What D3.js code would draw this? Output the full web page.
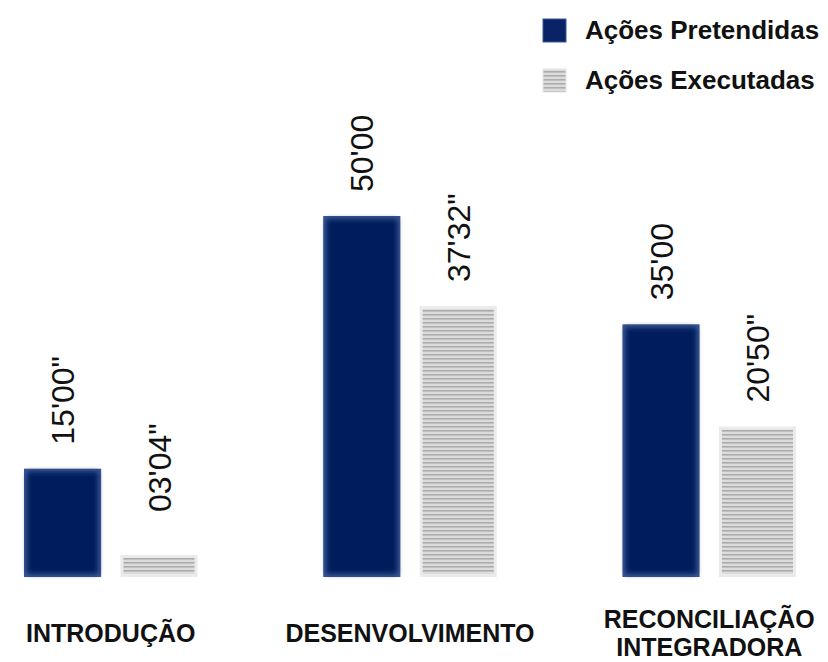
<!DOCTYPE html>
<html>
<head>
<meta charset="utf-8">
<script src="https://cdn.jsdelivr.net/npm/d3@7"></script>
<style>
  body { margin: 0; background: #fff; }
  text { font-family: "Liberation Sans", Arial, sans-serif; fill: #111; }
</style>
</head>
<body>
<div id="chart"></div>
<script>
// data
var categories = [["INTRODUÇÃO"], ["DESENVOLVIMENTO"], ["RECONCILIAÇÃO", "INTEGRADORA"]];
var seriesNames = ["Ações Pretendidas", "Ações Executadas"];
// durations in minutes
var pretendidas = [15, 50, 35];
var executadas = [3 + 4/60, 37 + 32/60, 20 + 50/60];
var labelsPretendidas = ["15'00\"", "50'00", "35'00"];
var labelsExecutadas = ["03'04\"", "37'32\"", "20'50\""];

var width = 828, height = 662;

var svg = d3.select("#chart")
  .append("svg")
    .attr("width", width)
    .attr("height", height);

var defs = svg.append("defs");

// striped fill for the executed bars
var pat = defs.append("pattern")
    .attr("id", "stripes")
    .attr("patternUnits", "userSpaceOnUse")
    .attr("width", 8)
    .attr("height", 4);
pat.append("rect").attr("width", 8).attr("height", 4).attr("fill", "#dcdcdc");
pat.append("rect").attr("y", 2).attr("width", 8).attr("height", 1.6).attr("fill", "#acacac");

defs.append("filter")
    .attr("id", "soft")
    .attr("x", "-20%").attr("y", "-20%").attr("width", "140%").attr("height", "140%")
  .append("feGaussianBlur")
    .attr("stdDeviation", 2.5);

var keys = ["p", "e"];
var rows = categories.map(function(c, i) {
  return {
    cat: c,
    key: c.join(" "),
    p: pretendidas[i], e: executadas[i],
    pl: labelsPretendidas[i], el: labelsExecutadas[i]
  };
});

// scales
var x = d3.scaleBand()
    .domain(rows.map(function(d) { return d.key; }))
    .range([24, 796])
    .paddingInner(0.42)
    .paddingOuter(0);

var xSub = d3.scaleBand()
    .domain(keys)
    .range([0, x.bandwidth()])
    .paddingInner(0.2)
    .paddingOuter(0);

var y = d3.scaleLinear()
    .domain([0, 50])
    .range([577, 216]);

var groups = svg.selectAll("g.grp")
  .data(rows)
  .enter().append("g")
    .attr("class", "grp")
    .attr("transform", function(d) { return "translate(" + x(d.key) + ",0)"; });

var bars = groups.selectAll("g.bar")
  .data(function(d) {
    return keys.map(function(k) { return { k: k, v: d[k], label: d[k + "l"] }; });
  })
  .enter().append("g")
    .attr("class", "bar");

// outer edge
bars.append("rect")
    .attr("x", function(d) { return xSub(d.k); })
    .attr("y", function(d) { return y(d.v); })
    .attr("width", xSub.bandwidth())
    .attr("height", function(d) { return y(0) - y(d.v); })
    .attr("fill", function(d) { return d.k === "p" ? "#3a5896" : "#ebebeb"; });

// soft inner fill
bars.append("rect")
    .attr("x", function(d) { return xSub(d.k) + 3; })
    .attr("y", function(d) { return y(d.v) + 3; })
    .attr("width", xSub.bandwidth() - 6)
    .attr("height", function(d) { return Math.max(0, y(0) - y(d.v) - 6); })
    .attr("fill", function(d) { return d.k === "p" ? "#021a5c" : "url(#stripes)"; })
    .attr("filter", function(d) { return d.k === "p" ? "url(#soft)" : null; });

// value labels, rotated
bars.append("text")
    .attr("transform", function(d) {
      var cx = xSub(d.k) + xSub.bandwidth() / 2;
      var yb = Math.min(y(d.v) - 24, y(0) - 65);
      return "translate(" + cx + "," + yb + ") rotate(-90)";
    })
    .attr("dy", "0.36em")
    .attr("text-anchor", "start")
    .style("font-size", "32px")
    .text(function(d) { return d.label; });

// category labels
groups.append("text")
    .attr("x", x.bandwidth() / 2)
    .attr("y", function(d) { return d.cat.length > 1 ? 628 : 642; })
    .attr("text-anchor", "middle")
    .style("font-size", "25px")
    .style("font-weight", "bold")
  .selectAll("tspan")
  .data(function(d) { return d.cat; })
  .enter().append("tspan")
    .attr("x", x.bandwidth() / 2)
    .attr("dy", function(d, i) { return i === 0 ? 0 : 28; })
    .text(function(d) { return d; });

// legend
var legend = svg.selectAll("g.leg")
  .data(seriesNames)
  .enter().append("g")
    .attr("class", "leg")
    .attr("transform", function(d, i) { return "translate(543," + (19 + i * 50) + ")"; });

legend.append("rect")
    .attr("width", 23)
    .attr("height", 23)
    .attr("fill", function(d, i) { return i === 0 ? "#0a2266" : "url(#stripes)"; })
    .attr("stroke", function(d, i) { return i === 0 ? "#3a5896" : "#e6e6e6"; })
    .attr("stroke-width", 1);

legend.append("text")
    .attr("x", 42)
    .attr("y", 20)
    .style("font-size", "26px")
    .style("font-weight", "bold")
    .text(function(d) { return d; });
</script>
</body>
</html>
